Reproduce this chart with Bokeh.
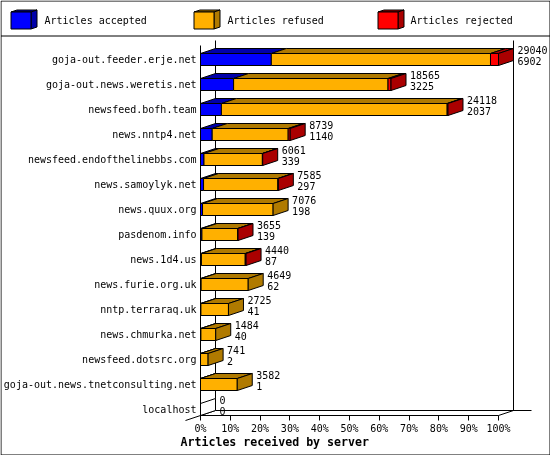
from bokeh.plotting import figure
from bokeh.embed import file_html
from bokeh.resources import INLINE
from bokeh.core.properties import value
from bokeh.models import Range1d, FixedTicker, Label, PolyAnnotation, LinearAxis

servers = ["goja-out.feeder.erje.net", "goja-out.news.weretis.net", "newsfeed.bofh.team",
           "news.nntp4.net", "newsfeed.endofthelinebbs.com", "news.samoylyk.net", "news.quux.org",
           "pasdenom.info", "news.1d4.us", "news.furie.org.uk", "nntp.terraraq.uk",
           "news.chmurka.net", "newsfeed.dotsrc.org", "goja-out.news.tnetconsulting.net", "localhost"]
totals = [29040, 18565, 24118, 8739, 6061, 7585, 7076, 3655, 4440, 4649, 2725, 1484, 741, 3582, 0]
accepted = [6902, 3225, 2037, 1140, 339, 297, 198, 139, 87, 62, 41, 40, 2, 1, 0]
rejected = [780, 290, 80, 195, 30, 40, 0, 10, 80, 0, 0, 0, 0, 0, 0]
tick_pct = [0, 10, 20, 30, 40, 50, 60, 70, 80, 90, 100]
legend_names = ["Articles accepted", "Articles refused", "Articles rejected"]
x_title = "Articles received by server"

BLUE, DBLUE = "#0000FF", "#0000AA"
ORANGE, DORANGE = "#FFB000", "#B07A00"
RED, DRED = "#FF0000", "#AA0000"
FONT = "DejaVu Sans Mono"
W, H = 550, 455

full = max(totals)
PX = full / 298.0          # articles per pixel
DX = 15 * PX               # depth in x
RP = 25.0                  # pixels per bar row
DY = 5 / RP                # depth in y
HB = 6 / RP                # half bar height

x0 = -200 * PX
r0 = (0 - 59) / RP
p = figure(width=W, height=H, output_backend="svg", toolbar_location=None,
           x_range=Range1d(x0, x0 + W * PX),
           y_range=Range1d(r0 + H / RP, r0),
           x_axis_type=None, y_axis_type=None,
           min_border=0, min_border_left=0, min_border_right=0, min_border_top=0, min_border_bottom=0,
           background_fill_color="white", border_fill_color="white", outline_line_color=None)
p.grid.visible = False
p.styles = {"position": "fixed", "left": "0", "top": "0"}

base_r = (415 - 59) / RP
top_r = (45 - 59) / RP

# axes
xa = LinearAxis(ticker=FixedTicker(ticks=[full * t // 100 for t in tick_pct]),
                major_label_overrides={full * t // 100: f"{t}%" for t in tick_pct},
                bounds=(0, full), major_tick_in=0, major_tick_out=5, minor_tick_line_color=None,
                major_label_standoff=2, major_label_text_font=FONT,
                major_label_text_font_size="10px", major_label_text_color="black",
                axis_line_color="black", major_tick_line_color="black", fixed_location=base_r)
p.add_layout(xa, "below")
n = len(servers)
ya = LinearAxis(ticker=FixedTicker(ticks=list(range(n))),
                major_label_overrides={i: s for i, s in enumerate(servers)},
                bounds=(top_r, base_r), major_tick_in=0, major_tick_out=0,
                minor_tick_line_color=None, major_label_standoff=4,
                major_label_text_font=FONT, major_label_text_font_size="10px",
                major_label_text_color="black", axis_line_color="black", fixed_location=0)
p.add_layout(ya, "left")

# walls and floor
floor_y = base_r - DY
p.segment([DX, full + DX, DX, -15 * PX, full], [top_r - DY, top_r - DY, floor_y, floor_y + 2 * DY, floor_y + DY],
          [DX, full + DX, x0 + 531 * PX, DX, full + DX], [floor_y, floor_y, floor_y, floor_y, floor_y],
          line_color="black", line_width=1)

# bars
xs, ys, cols = [], [], []
for i in range(n):
    t, a, r = totals[i], accepted[i], rejected[i]
    y1, y2 = i - HB, i + HB
    if t == 0:
        xs.append([0, DX, DX, 0]); ys.append([y1, y1 - DY, y2 - DY, y2]); cols.append("white")
        continue
    segs = [(0, a, BLUE, DBLUE), (a, t - r, ORANGE, DORANGE), (t - r, t, RED, DRED)]
    segs = [s for s in segs if s[1] > s[0]]
    for a0, a1, c, d in segs:
        xs.append([a0, a0 + DX, a1 + DX, a1]); ys.append([y1, y1 - DY, y1 - DY, y1]); cols.append(d)
    for a0, a1, c, d in segs:
        xs.append([a0, a1, a1, a0]); ys.append([y1, y1, y2, y2]); cols.append(c)
    d = segs[-1][3]
    xs.append([t, t + DX, t + DX, t]); ys.append([y1, y1 - DY, y2 - DY, y2]); cols.append(d)
p.patches(xs, ys, fill_color=cols, line_color="black", line_width=1)

# value labels
lab_x = [t + 19 * PX for t in totals] * 2
lab_y = [i - 9.5 / RP for i in range(n)] + [i + 1.5 / RP for i in range(n)]
lab_t = [str(v) for v in totals] + [str(v) for v in accepted]
p.text(lab_x, lab_y, text=lab_t, text_font=value(FONT), text_font_size="10px",
       text_color="black", text_baseline="middle", text_align="left")

# title
p.add_layout(Label(x=180, y=H - 441, x_units="screen", y_units="screen", text=x_title, text_font=FONT,
                   text_font_size="11.6px", text_font_style="bold", text_color="black",
                   text_baseline="middle", text_align="left"))

# legend
def box(l, t, r, b, face, dark):
    for bx, by, col in [([l, l + 6, r + 6, r], [t, t - 2, t - 2, t], dark),
                        ([r, r + 6, r + 6, r], [t, t - 2, b - 2, b], dark),
                        ([l, r, r, l], [t, t, b, b], face)]:
        p.add_layout(PolyAnnotation(xs=[v + 0.5 for v in bx], ys=[H - v - 0.5 for v in by],
                                    xs_units="screen", ys_units="screen",
                                    fill_color=col, fill_alpha=1, line_color="black", line_width=1, line_alpha=1))

for l, tx, name, c, d in zip([10, 193, 377], [44, 227, 410], legend_names,
                             [BLUE, ORANGE, RED], [DBLUE, DORANGE, DRED]):
    box(l, 11, l + 20, 28, c, d)
    p.add_layout(Label(x=tx, y=H - 20, x_units="screen", y_units="screen", text=name, text_font=FONT,
                       text_font_size="10px", text_color="black", text_baseline="middle", text_align="left"))

# frame of the picture and legend rule
for bx, by in [([0.5, 549.5, 549.5, 0.5], [0.5, 0.5, 454.5, 454.5]), ([0.5, 549.5], [35.5, 35.5])]:
    p.add_layout(PolyAnnotation(xs=bx, ys=[H - v for v in by], xs_units="screen", ys_units="screen",
                                fill_alpha=0, line_color="black", line_width=1, line_alpha=1))

open("out.html", "w").write(file_html(p, INLINE))
